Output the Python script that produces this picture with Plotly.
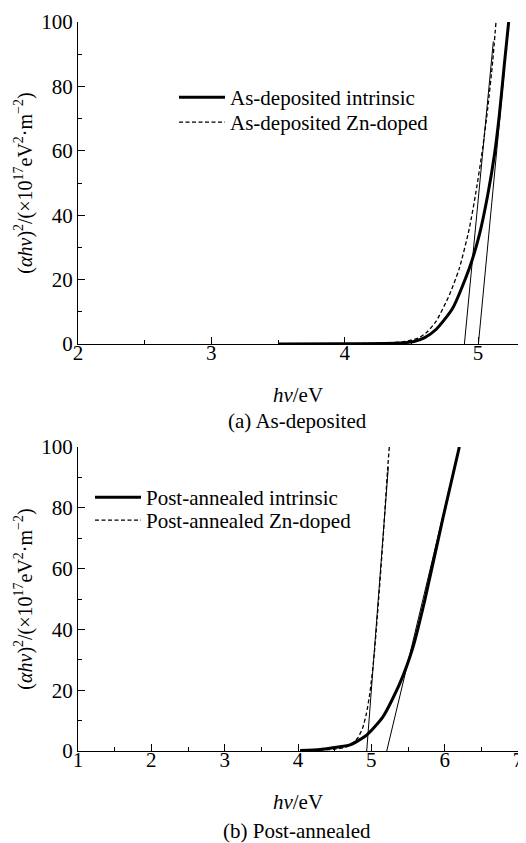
import plotly.graph_objects as go
from plotly.subplots import make_subplots

# ---------- data: (a) As-deposited ----------
a_intr_x = [3.5, 4.0, 4.3, 4.42, 4.52, 4.6, 4.685, 4.81, 4.935, 5.01, 5.073, 5.123, 5.16, 5.197, 5.23]
a_intr_y = [0, 0.05, 0.15, 0.3, 0.8, 2.0, 4.5, 11.1, 23.5, 33.9, 46.3, 58.7, 71.1, 86.6, 100]
a_zn_x = [3.5, 4.0, 4.3, 4.45, 4.55, 4.62, 4.685, 4.785, 4.86, 4.935, 4.985, 5.035, 5.073, 5.11, 5.135]
a_zn_y = [0, 0.1, 0.3, 0.8, 1.8, 3.8, 7.0, 15.2, 23.5, 35.9, 47.3, 60.8, 73.2, 87.7, 100]
a_tan1_x = [4.898, 5.115]
a_tan1_y = [0, 94]
a_tan2_x = [5.003, 5.2]
a_tan2_y = [0, 86]

# ---------- data: (b) Post-annealed ----------
b_intr_x = [4.03, 4.3, 4.48, 4.71, 4.94, 5.16, 5.39, 5.57, 5.73, 5.98, 6.2]
b_intr_y = [0.2, 0.5, 1.1, 2.0, 5.3, 11.3, 22.3, 34.3, 49.7, 77, 100]
b_zn_x = [4.03, 4.3, 4.5, 4.65, 4.75, 4.82, 4.88, 4.93, 4.98, 5.04, 5.10, 5.16, 5.22, 5.245]
b_zn_y = [0.1, 0.3, 0.6, 1.2, 2.5, 4.5, 7.5, 12, 19, 32, 50, 70, 92, 100]
b_tan1_x = [4.937, 5.232]
b_tan1_y = [0, 93.5]
b_tan2_x = [5.21, 6.2]
b_tan2_y = [0, 100]

a_names = ["As-deposited intrinsic", "As-deposited Zn-doped"]
b_names = ["Post-annealed intrinsic", "Post-annealed Zn-doped"]
captions = ["(a) As-deposited", "(b) Post-annealed"]

FONT = "Liberation Serif"
FS = 21
OFF = 8                      # page body margin
W, H = 526 - OFF, 843 - OFF
ML, MR, MT, MB = 78 - OFF, 8, 22 - OFF, 92
PH = H - MT - MB


def dom(top_px, bot_px):
    top_px -= OFF
    bot_px -= OFF
    return [(H - MB - bot_px) / PH, (H - MB - top_px) / PH]


def px2x(px):
    return (px - OFF - ML) / (W - ML - MR)


def py2y(py):
    return (H - MB - (py - OFF)) / PH


fig = make_subplots(rows=2, cols=1)

thick = dict(color="black", width=3)
dash = dict(color="black", width=1.3, dash="4px,2.5px")
thin = dict(color="black", width=1)

fig.add_trace(go.Scatter(x=a_intr_x, y=a_intr_y, mode="lines", line=dict(**thick, shape="spline", smoothing=0.6),
                         name=a_names[0], legend="legend"), row=1, col=1)
fig.add_trace(go.Scatter(x=a_zn_x, y=a_zn_y, mode="lines", line=dict(**dash, shape="spline", smoothing=0.6),
                         name=a_names[1], legend="legend2"), row=1, col=1)
fig.add_trace(go.Scatter(x=a_tan1_x, y=a_tan1_y, mode="lines", line=thin, showlegend=False), row=1, col=1)
fig.add_trace(go.Scatter(x=a_tan2_x, y=a_tan2_y, mode="lines", line=thin, showlegend=False), row=1, col=1)

fig.add_trace(go.Scatter(x=b_intr_x, y=b_intr_y, mode="lines", line=dict(**thick, shape="spline", smoothing=0.6),
                         name=b_names[0], legend="legend3"), row=2, col=1)
fig.add_trace(go.Scatter(x=b_zn_x, y=b_zn_y, mode="lines", line=dict(**dash, shape="spline", smoothing=0.6),
                         name=b_names[1], legend="legend4"), row=2, col=1)
fig.add_trace(go.Scatter(x=b_tan1_x, y=b_tan1_y, mode="lines", line=thin, showlegend=False), row=2, col=1)
fig.add_trace(go.Scatter(x=b_tan2_x, y=b_tan2_y, mode="lines", line=thin, showlegend=False), row=2, col=1)

axcommon = dict(showline=True, linecolor="black", linewidth=1.3, ticks="inside", ticklen=7,
                tickwidth=1, tickcolor="black", showgrid=False, zeroline=False, automargin=False,
                tickfont=dict(family=FONT, size=FS, color="black"))
ytitle = "(<i>αhv</i>)<sup>2</sup>/(×10<sup>17</sup>eV<sup>2</sup>·m<sup>−2</sup>)"
xtitle = "<i>hv</i>/eV"

for r, rng, d in [(1, [2, 5.3], dom(22, 344)), (2, [1, 7], dom(447, 751))]:
    fig.update_xaxes(**axcommon, range=rng, dtick=1, tick0=0, ticklabeloverflow="allow",
                     ticklabelstandoff=-10,
                     minor=dict(ticks="inside", dtick=0.5, ticklen=4, tickcolor="black"),
                     title=dict(text=xtitle, font=dict(family=FONT, size=FS), standoff=22),
                     domain=[0, 1], row=r, col=1)
    fig.update_yaxes(**axcommon, range=[0, 100], dtick=20,
                     minor=dict(ticks="inside", dtick=10, ticklen=4, tickcolor="black"),
                     title=dict(text=ytitle, font=dict(family=FONT, size=FS - 1), standoff=3),
                     domain=d, row=r, col=1)

legfont = dict(family=FONT, size=FS, color="black")


def leg(px, py):
    return dict(x=px2x(px), y=py2y(py), xanchor="left", yanchor="top", font=legfont,
                bgcolor="rgba(0,0,0,0)", itemwidth=46, tracegroupgap=0)


fig.update_layout(
    width=W, height=H,
    margin=dict(l=ML, r=MR, t=MT, b=MB, autoexpand=False),
    paper_bgcolor="white", plot_bgcolor="white",
    font=dict(family=FONT, color="black"),
    legend=leg(174, 77),
    legend2=leg(174, 102),
    legend3=leg(90, 477),
    legend4=leg(90, 500),
    annotations=[
        dict(text=captions[0], x=px2x(297), y=py2y(421), xref="paper", yref="paper",
             xanchor="center", yanchor="middle",
             showarrow=False, font=dict(family=FONT, size=FS)),
        dict(text=captions[1], x=px2x(297), y=py2y(831), xref="paper", yref="paper",
             xanchor="center", yanchor="middle",
             showarrow=False, font=dict(family=FONT, size=FS)),
    ],
)

fig.write_html("out.html")
